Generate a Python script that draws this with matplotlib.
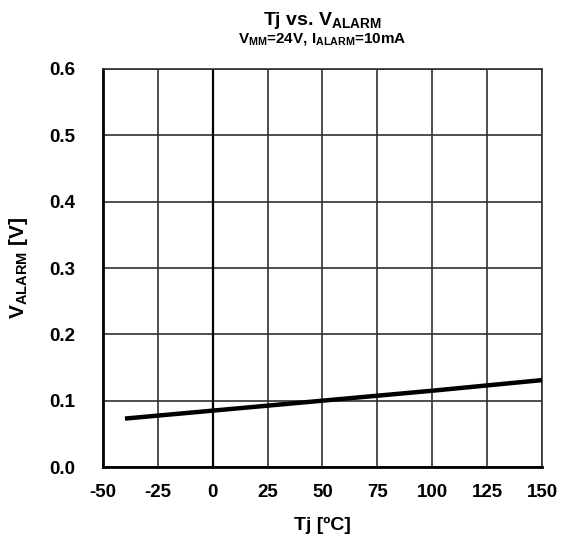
import matplotlib.pyplot as plt

plt.rcParams["font.family"] = ["Liberation Sans", "DejaVu Sans"]
plt.rcParams["font.weight"] = "bold"
plt.rcParams["axes.unicode_minus"] = False
plt.rcParams["mathtext.fontset"] = "custom"
plt.rcParams["mathtext.rm"] = "Liberation Sans:bold"
plt.rcParams["mathtext.bf"] = "Liberation Sans:bold"
plt.rcParams["mathtext.it"] = "Liberation Sans:bold"

tj = [-40, 0, 50, 100, 150]
v_alarm = [0.073, 0.085, 0.100, 0.115, 0.131]

x_ticks = [-50, -25, 0, 25, 50, 75, 100, 125, 150]
y_ticks = [0.0, 0.1, 0.2, 0.3, 0.4, 0.5, 0.6]

fig = plt.figure(figsize=(5.61, 5.45), dpi=100)
ax = fig.add_axes([0.1836, 0.1431, 0.7825, 0.7303])

ax.set_xlim(-50, 150)
ax.set_ylim(0, 0.6)
ax.set_xticks(x_ticks)
ax.set_yticks(y_ticks)
ax.set_yticklabels([f"{v:.1f}" for v in y_ticks])
ax.grid(True, color="#303030", linewidth=1.2)
ax.axvline(0, color="black", linewidth=1.6, zorder=2)

ax.plot(tj, v_alarm, color="black", linewidth=3.2, solid_capstyle="butt", zorder=3)

for side in ["top", "right"]:
    ax.spines[side].set_color("#303030")
    ax.spines[side].set_linewidth(1.2)
for side in ["left", "bottom"]:
    ax.spines[side].set_color("black")
    ax.spines[side].set_linewidth(2)

ax.tick_params(length=0, labelsize=13.5)
ax.tick_params(axis="y", pad=20)
ax.tick_params(axis="x", pad=12)
for lab in ax.get_xticklabels() + ax.get_yticklabels():
    lab.set_fontweight("bold")

ax.set_xlabel("Tj [ºC]", fontsize=14, fontweight="bold", labelpad=12)
ax.set_ylabel(r"V$_{\mathrm{ALARM}}$ [V]", fontsize=15, fontweight="bold", labelpad=14)

fig.text(0.575, 0.955, r"Tj vs. V$_{\mathrm{ALARM}}$", ha="center", va="baseline",
         fontsize=14, fontweight="bold")
fig.text(0.575, 0.922, r"V$_{\mathrm{MM}}$=24V, I$_{\mathrm{ALARM}}$=10mA", ha="center",
         va="baseline", fontsize=11, fontweight="bold")

fig.savefig("out.png", dpi=100)
